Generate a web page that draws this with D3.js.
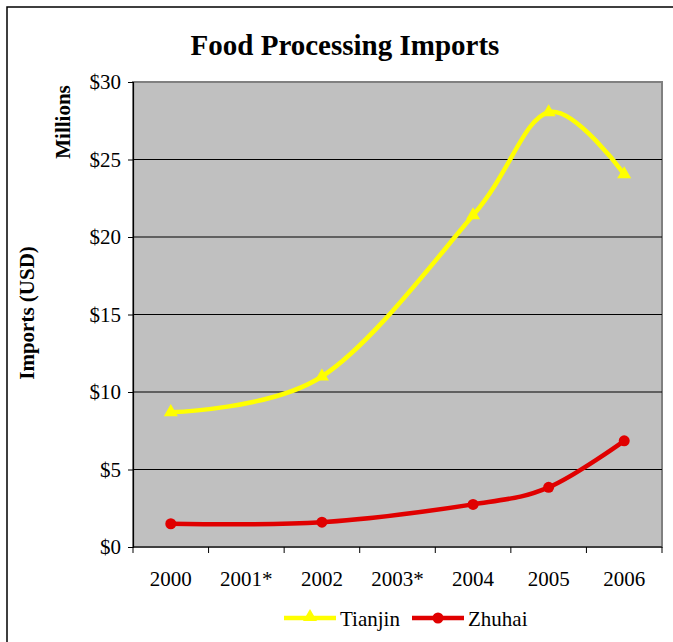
<!DOCTYPE html>
<html>
<head>
<meta charset="utf-8">
<script src="https://cdn.jsdelivr.net/npm/d3@7"></script>
<style>
  html, body { margin: 0; padding: 0; background: #fff; }
  svg { display: block; }
  text { font-family: "Liberation Serif", "Times New Roman", serif; fill: #000; }
</style>
</head>
<body>
<script>
const categories = ["2000", "2001*", "2002", "2003*", "2004", "2005", "2006"];
const tianjin = [8.7, null, 11.0, null, 21.4, 28.05, 24.05];
const zhuhai = [1.5, null, 1.6, null, 2.75, 3.85, 6.85];
const yTicks = [0, 5, 10, 15, 20, 25, 30];
const seriesNames = ["Tianjin", "Zhuhai"];
const seriesColors = ["#FFFF00", "#E00000"];

(function () {
const W = 673, H = 642;
const FONT = "'Liberation Serif', 'Times New Roman', serif";
const svg = d3.select("body").append("svg").attr("width", W).attr("height", H);

// outer chart border (top & left visible)
svg.append("path").attr("d", "M7,642 L7,7 L673,7").attr("fill", "none").attr("stroke", "#000").attr("stroke-width", 1.5);

const pLeft = 133, pRight = 662, pTop = 82, pBottom = 547;
const x = d3.scaleBand().domain(categories).range([pLeft, pRight]);
const y = d3.scaleLinear().domain([0, 30]).range([pBottom, pTop]);

// plot background
svg.append("rect").attr("x", pLeft).attr("y", pTop).attr("width", pRight - pLeft).attr("height", pBottom - pTop)
  .attr("fill", "#C0C0C0").attr("stroke", "#808080").attr("stroke-width", 2);

// gridlines
svg.append("g").selectAll("line").data(yTicks.filter(v => v > 0 && v < 30)).join("line")
  .attr("x1", pLeft).attr("x2", pRight).attr("y1", d => y(d)).attr("y2", d => y(d))
  .attr("stroke", "#000").attr("stroke-width", 1);

// y axis
const yAxis = svg.append("g").attr("transform", `translate(${pLeft},0)`)
  .call(d3.axisLeft(y).tickValues(yTicks).tickSize(5).tickPadding(7).tickFormat(d => "$" + d));
yAxis.attr("font-family", null).attr("font-size", null);
yAxis.select(".domain").attr("stroke", "#000").attr("stroke-width", 1.2);
yAxis.selectAll(".tick line").attr("stroke", "#000");
yAxis.selectAll(".tick text").style("font-family", FONT).style("font-size", "21px").attr("fill", "#000");

// x axis with ticks at band boundaries
const xAxisG = svg.append("g").attr("transform", `translate(0,${pBottom})`);
xAxisG.append("line").attr("x1", pLeft).attr("x2", pRight).attr("stroke", "#000").attr("stroke-width", 1.2);
const bounds = categories.map(c => x(c)).concat([pRight]);
xAxisG.selectAll(".xt").data(bounds).join("line").attr("class", "xt")
  .attr("x1", d => d).attr("x2", d => d).attr("y1", 0).attr("y2", 6).attr("stroke", "#000");
xAxisG.selectAll(".xl").data(categories).join("text").attr("class", "xl")
  .attr("x", d => x(d) + x.bandwidth() / 2).attr("y", 39)
  .attr("text-anchor", "middle").style("font-family", FONT).style("font-size", "21px").text(d => d);

// title
svg.append("text").attr("x", 345).attr("y", 55).attr("text-anchor", "middle")
  .style("font-family", FONT).style("font-size", "29px").style("font-weight", "bold").text("Food Processing Imports");

// axis titles
svg.append("text").attr("transform", "translate(70,122) rotate(-90)").attr("text-anchor", "middle")
  .style("font-family", FONT).style("font-size", "21px").style("font-weight", "bold").text("Millions");
svg.append("text").attr("transform", "translate(34,313) rotate(-90)").attr("text-anchor", "middle")
  .style("font-family", FONT).style("font-size", "21px").style("font-weight", "bold").text("Imports (USD)");

// series
const line = d3.line()
  .x(d => x(d.c) + x.bandwidth() / 2).y(d => y(d.v))
  .curve(d3.curveCardinal.tension(0));

const triangle = d3.symbol().type(d3.symbolTriangle).size(85);

function drawSeries(vals, color, marker) {
  const pts = categories.map((c, i) => ({ c, v: vals[i] })).filter(d => d.v != null);
  svg.append("path").datum(pts).attr("d", line).attr("fill", "none")
    .attr("stroke", color).attr("stroke-width", 4.5).attr("stroke-linejoin", "round");
  if (marker === "tri") {
    svg.append("g").selectAll("path").data(pts).join("path")
      .attr("transform", d => `translate(${x(d.c) + x.bandwidth() / 2},${y(d.v)})`)
      .attr("d", triangle).attr("fill", color);
  } else {
    svg.append("g").selectAll("circle").data(pts).join("circle")
      .attr("cx", d => x(d.c) + x.bandwidth() / 2).attr("cy", d => y(d.v)).attr("r", 5.5)
      .attr("fill", color);
  }
}
drawSeries(tianjin, seriesColors[0], "tri");
drawSeries(zhuhai, seriesColors[1], "circ");

// legend
const legend = svg.append("g");
const legendItems = [
  { name: seriesNames[0], color: seriesColors[0], marker: "tri", x0: 284 },
  { name: seriesNames[1], color: seriesColors[1], marker: "circ", x0: 412 }
];
legendItems.forEach(it => {
  legend.append("line").attr("x1", it.x0).attr("x2", it.x0 + 52).attr("y1", 618).attr("y2", 618)
    .attr("stroke", it.color).attr("stroke-width", 4.5);
  if (it.marker === "tri") {
    legend.append("path").attr("transform", `translate(${it.x0 + 26},617)`).attr("d", triangle).attr("fill", it.color);
  } else {
    legend.append("circle").attr("cx", it.x0 + 26).attr("cy", 618).attr("r", 5.5).attr("fill", it.color);
  }
  legend.append("text").attr("x", it.x0 + 56).attr("y", 626)
    .style("font-family", FONT).style("font-size", "21px").text(it.name);
});
})();
</script>
</body>
</html>
